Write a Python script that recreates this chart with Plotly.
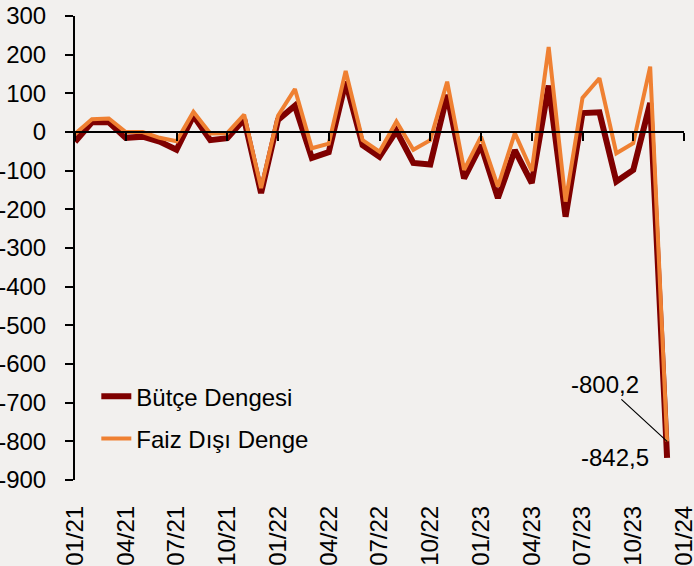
import plotly.graph_objects as go

months = [f"{m:02d}/{y}" for y in (21, 22, 23) for m in range(1, 13)]
tick_labels = ["01/21", "04/21", "07/21", "10/21", "01/22", "04/22", "07/22",
               "10/22", "01/23", "04/23", "07/23", "10/23", "01/24"]
y_tick_vals = [300, 200, 100, 0, -100, -200, -300, -400, -500, -600, -700, -800, -900]
y_tick_labels = ["300", "200", "100", "0", "-100", "-200", "-300", "-400",
                 "-500", "-600", "-700", "-800", "-900"]

butce = [-25, 25, 25, -15, -12, -25, -46, 42, -21, -16, 33, -158,
         31, 68, -67, -52, 130, -34, -64, 3, -80, -84, 96, -120,
         -34, -171, -47, -132, 120, -219, 49, 51, -128, -98, 75, -842.5]
faiz = [-5, 33, 35, 0, 0, -15, -24, 52, -4, -3, 45, -145,
        42, 111, -42, -30, 158, -21, -51, 27, -46, -21, 130, -98,
        -12, -141, -3, -101, 220, -180, 88, 139, -55, -29, 169, -800.2]

FONT = "Liberation Sans"
x = list(range(len(months)))
tickvals = [i * 3 for i in range(len(tick_labels))]

fig = go.Figure()
fig.add_trace(go.Scatter(x=x, y=butce, mode="lines", name="Bütçe Dengesi",
                         line=dict(color="#7F0000", width=6),
                         legendgroup="a", text=months))
fig.add_trace(go.Scatter(x=x, y=faiz, mode="lines", name="Faiz Dışı Denge",
                         line=dict(color="#EF8032", width=4),
                         legendgroup="b", text=months))
fig.add_trace(go.Scatter(x=[], y=[], xaxis="x2", showlegend=False))

fig.add_annotation(x=x[-1], y=faiz[-1], text="-800,2", showarrow=True,
                   arrowhead=0, arrowwidth=1.2, arrowcolor="black",
                   ax=-62, ay=-57, font=dict(family=FONT, size=24, color="black"))
fig.add_annotation(x=x[-1], y=butce[-1], text="-842,5", showarrow=False,
                   xanchor="right", xshift=-16,
                   font=dict(family=FONT, size=24, color="black"))

fig.update_layout(
    width=694, height=566,
    margin=dict(l=75, r=10, t=16, b=86),
    paper_bgcolor="#F2F0EE", plot_bgcolor="#F2F0EE",
    font=dict(family=FONT, size=24, color="black"),
    showlegend=True,
    legend=dict(x=0.035, y=0.228, xanchor="left", yanchor="top",
                bgcolor="rgba(0,0,0,0)", font=dict(size=24),
                traceorder="grouped", tracegroupgap=8),
    xaxis=dict(range=[0, 36], tickvals=tickvals, ticktext=tick_labels,
               tickangle=-90, showline=False, ticks="", showgrid=False,
               zeroline=False, ticklabelstandoff=20, automargin=False,
               ticklabeloverflow="allow", tickfont=dict(size=24)),
    xaxis2=dict(range=[0, 36], overlaying="x", anchor="free", position=0.75,
                side="bottom", tickvals=tickvals, showticklabels=False,
                showline=True, linewidth=2, linecolor="black",
                ticks="outside", ticklen=8, tickwidth=2, tickcolor="black",
                showgrid=False, zeroline=False, automargin=False),
    yaxis=dict(range=[-900, 300], tickvals=y_tick_vals, ticktext=y_tick_labels,
               showline=True, linewidth=2,
               linecolor="black", ticks="outside", ticklen=8, tickwidth=2,
               tickcolor="black", showgrid=False, zeroline=False,
               ticklabelstandoff=14, automargin=False,
               ticklabeloverflow="allow", tickfont=dict(size=24)),
)

fig.write_html("out.html", config={"displayModeBar": False},
               post_script="document.body.style.margin='0';document.body.style.background='#F2F0EE';")
